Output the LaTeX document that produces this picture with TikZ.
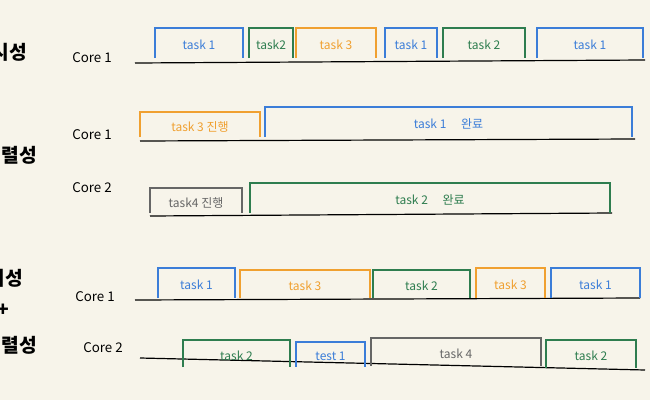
\documentclass[tikz,border=0pt]{standalone}
\usepackage{fontspec}
\setmainfont{Liberation Sans}
\newfontfamily\kr{Noto Sans CJK KR}
\definecolor{bg}{HTML}{F7F4EA}
\definecolor{tb}{HTML}{3B7DD8}
\definecolor{tg}{HTML}{2E7D4F}
\definecolor{to}{HTML}{F0A030}
\definecolor{tgr}{HTML}{666666}
\begin{document}
\begin{tikzpicture}[x=0.75pt,y=-0.75pt,
  base/.style={line width=0.9pt,black},
  core/.style={font=\kr\normalsize,anchor=center},
  big/.style={font=\kr\bfseries\Large,anchor=east},
  tlab/.style={font=\kr\small}]
\fill[bg] (0,0) rectangle (650,400);
\useasboundingbox (0,0) rectangle (650,400);
\newcommand\tbox[6]{% x1 x2 top bottom color text
  \draw[#5,line width=0.8pt] (#1,#4) -- (#1,#3) -- (#2,#3) -- (#2,#4);
  \node[tlab,text=#5] at ({(#1+#2)/2},{(#3+#4)/2+2}) {#6};}
% left labels
\node[big] (l1) at (32,52) {동시성};
\node[big] (l2) at (42,155) {병렬성};
\node[big] (l3a) at (28,278) {동시성};
\node[big] (l3b) at (14,310) {+};
\node[big] (l3c) at (42,345) {병렬성};
% row 1
\node[core] (c11) at (92,58) {Core 1};
\draw[base] (135,63) -- (645,60);
\tbox{155}{243}{28}{58}{tb}{task 1}
\tbox{249}{293}{28}{58}{tg}{task2}
\tbox{296}{376}{28}{58}{to}{task 3}
\tbox{385}{437}{28}{58}{tb}{task 1}
\tbox{443}{525}{28}{58}{tg}{task 2}
\tbox{537}{643}{28}{58}{tb}{task 1}
% row 2
\node[core] (c21) at (92,135) {Core 1};
\draw[base] (140,141) -- (635,139);
\tbox{140}{260}{112}{137}{to}{task 3 진행}
\tbox{265}{632}{107}{137}{tb}{task 1 \quad 완료}
\node[core] (c22) at (92,188) {Core 2};
\draw[base] (150,216) -- (612,213);
\tbox{150}{242}{188}{213}{tgr}{task4 진행}
\tbox{250}{610}{183}{213}{tg}{task 2 \quad 완료}
% row 3
\node[core] (c31) at (95,297) {Core 1};
\draw[base] (135,300) -- (640,298);
\tbox{158}{235}{268}{298}{tb}{task 1}
\tbox{240}{370}{270}{298}{to}{task 3}
\tbox{373}{470}{270}{298}{tg}{task 2}
\tbox{476}{545}{268}{298}{to}{task 3}
\tbox{551}{640}{268}{298}{tb}{task 1}
\node[core] (c32) at (103,348) {Core 2};
\draw[base] (140,358) -- (645,370);
\tbox{183}{290}{340}{367}{tg}{task 2}
\tbox{296}{365}{342}{367}{tb}{test 1}
\tbox{371}{541}{338}{366}{tgr}{task 4}
\tbox{546}{636}{340}{368}{tg}{task 2}
\end{tikzpicture}
\end{document}
